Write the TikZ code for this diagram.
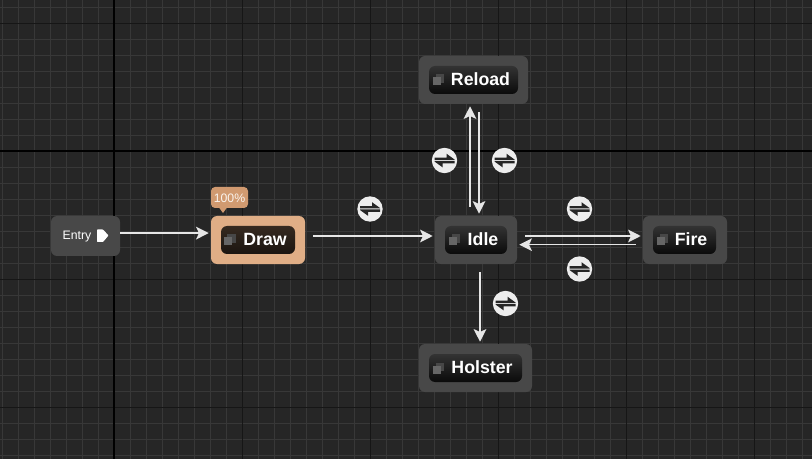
\documentclass[tikz,border=0pt]{standalone}
\usepackage{fontspec}
\setmainfont{Liberation Sans}
\usetikzlibrary{arrows.meta,calc}
\definecolor{bgc}{HTML}{262626}
\definecolor{gridc}{HTML}{383838}
\definecolor{majc}{HTML}{161616}
\definecolor{boxc}{HTML}{484848}
\definecolor{activec}{HTML}{E0AE86}
\definecolor{bubblec}{HTML}{D19A70}
\definecolor{flowc}{HTML}{E6E6E6}
\definecolor{iconc}{HTML}{262626}
\tikzset{
  x=0.75pt,y=-0.75pt,
  statebox/.style={rounded corners=4.5pt,fill=boxc,minimum height=36pt,inner sep=0pt,text width=0pt},
  activebox/.style={statebox,fill=activec},
  pill/.style={rounded corners=4.5pt,top color=black!80,bottom color=black!96,minimum height=21pt,inner sep=0pt},
  activepill/.style={rounded corners=4.5pt,top color=activec!24!black,bottom color=activec!12!black,minimum height=21pt,inner sep=0pt},
  lbl/.style={text=white,font=\bfseries\fontsize{13.3pt}{15pt}\selectfont,inner sep=0pt},
  entrylbl/.style={text=white,font=\fontsize{9.2pt}{11pt}\selectfont,inner sep=0pt},
  bubblelbl/.style={text=white!85!activec,font=\fontsize{9.2pt}{11pt}\selectfont,inner sep=0pt},
  flow/.style={draw=flowc,line width=1.2pt,-{Stealth[length=9.5pt,width=9.5pt,inset=2.2pt]}},
  transcirc/.style={circle,fill=white!93!black,minimum size=19pt,inner sep=0pt},
}
\newcommand{\stateicon}[2]{%
  \fill[black!72] ($(#1)+(#2,-5.5)$) rectangle ++(8.5,8.5);
  \fill[black!60] ($(#1)+(#2,-5.5)+(-3,3)$) rectangle ++(8,8);
}
\newcommand{\transglyph}[1]{%
  \begin{scope}[shift={(#1.center)}]
    \fill[iconc] (-10,-2.8) -- (2,-2.8) -- (2,-6.8) -- (10,-1) -- (10,-0.5) -- (-10,-0.5) -- cycle;
    \fill[iconc] (10,2.8) -- (-2,2.8) -- (-2,6.8) -- (-10,1) -- (-10,0.5) -- (10,0.5) -- cycle;
  \end{scope}
}
\begin{document}
\begin{tikzpicture}
\useasboundingbox (0,0) rectangle (812,459);
\fill[bgc] (0,0) rectangle (812,459);
% minor grid
\foreach \gx in {2,18,...,812} \draw[gridc,line width=0.7pt] (\gx,0) -- (\gx,459);
\foreach \gy in {7,23,...,459} \draw[gridc,line width=0.7pt] (0,\gy) -- (812,\gy);
% major grid
\foreach \gx in {242,370,498,626,754} \draw[majc,line width=0.7pt] (\gx,0) -- (\gx,459);
\foreach \gy in {23,279,407} \draw[majc,line width=0.7pt] (0,\gy) -- (812,\gy);
\draw[black,line width=0.8pt] (114,0) -- (114,459);
\draw[black,line width=0.8pt] (0,151) -- (812,151);

% Entry
\node[statebox,minimum width=51.75pt,minimum height=30pt] (entry) at (85.5,236) {};
\node[entrylbl] (entrytxt) at (77,236.5) {Entry};
\fill[white,rounded corners=0.5pt] (97,229.5) -- (103,229.5) -- (108.5,235.5) -- (103,242) -- (97,242) -- cycle;

% Draw
\node[activebox,minimum width=70.5pt] (draw) at (258,240) {};
\node[activepill,minimum width=55.5pt] (drawpill) at (258,240) {};
\stateicon{drawpill.west}{6.5}
\node[lbl] (drawtxt) at (265,239) {Draw};
% bubble
\fill[bubblec,rounded corners=3pt] (211,187) rectangle (248,208);
\fill[bubblec] (219,207.5) -- (227,207.5) -- (223,213) -- cycle;
\node[bubblelbl] (pct) at (229.5,198) {100\%};

% Idle
\node[statebox,minimum width=61.5pt] (idle) at (476,240) {};
\node[pill,minimum width=46.5pt] (idlepill) at (476,240) {};
\stateicon{idlepill.west}{7}
\node[lbl] (idletxt) at (483,239) {Idle};

% Reload
\node[statebox,minimum width=81.75pt] (reload) at (473.5,80) {};
\node[pill,minimum width=66.75pt] (reloadpill) at (473.5,80) {};
\stateicon{reloadpill.west}{7}
\node[lbl] (reloadtxt) at (480.5,79) {Reload};

% Fire
\node[statebox,minimum width=63pt] (fire) at (685,240) {};
\node[pill,minimum width=47.25pt] (firepill) at (684.5,240) {};
\stateicon{firepill.west}{7}
\node[lbl] (firetxt) at (691,239) {Fire};

% Holster
\node[statebox,minimum width=84.75pt] (holster) at (475.5,368) {};
\node[pill,minimum width=69.75pt] (holsterpill) at (475.5,368) {};
\stateicon{holsterpill.west}{7}
\node[lbl] (holstertxt) at (482,367) {Holster};

% connectors
\draw[flow] ($(entry.east)+(0,-2.9)$) -- ($(draw.west)+(-2,-6.9)$);
\draw[flow] ($(draw.east)+(8,-4)$) -- ($(idle.west)+(-2,-4)$);
\draw[flow] ($(idle.east)+(8,-4)$) -- ($(fire.west)+(-2,-4)$);
\draw[flow] ($(fire.west)+(-7,4.7)$) -- ($(idle.east)+(2,4.7)$);
\draw[flow] ($(idle.north)+(-6,-9)$) -- ($(reload.south)+(-3.5,2)$);
\draw[flow] ($(reload.south)+(5.5,8)$) -- ($(idle.north)+(3,-2)$);
\draw[flow] ($(idle.south)+(4,8)$) -- ($(holster.north)+(4.5,-2)$);

% transition markers
\node[transcirc] (t1) at (370,209) {}; \transglyph{t1}
\node[transcirc] (t2) at (444.5,160.5) {}; \transglyph{t2}
\node[transcirc] (t3) at (504.5,160.5) {}; \transglyph{t3}
\node[transcirc] (t4) at (579.5,209) {}; \transglyph{t4}
\node[transcirc] (t5) at (579.5,269) {}; \transglyph{t5}
\node[transcirc] (t6) at (505.5,303.5) {}; \transglyph{t6}
\end{tikzpicture}
\end{document}
